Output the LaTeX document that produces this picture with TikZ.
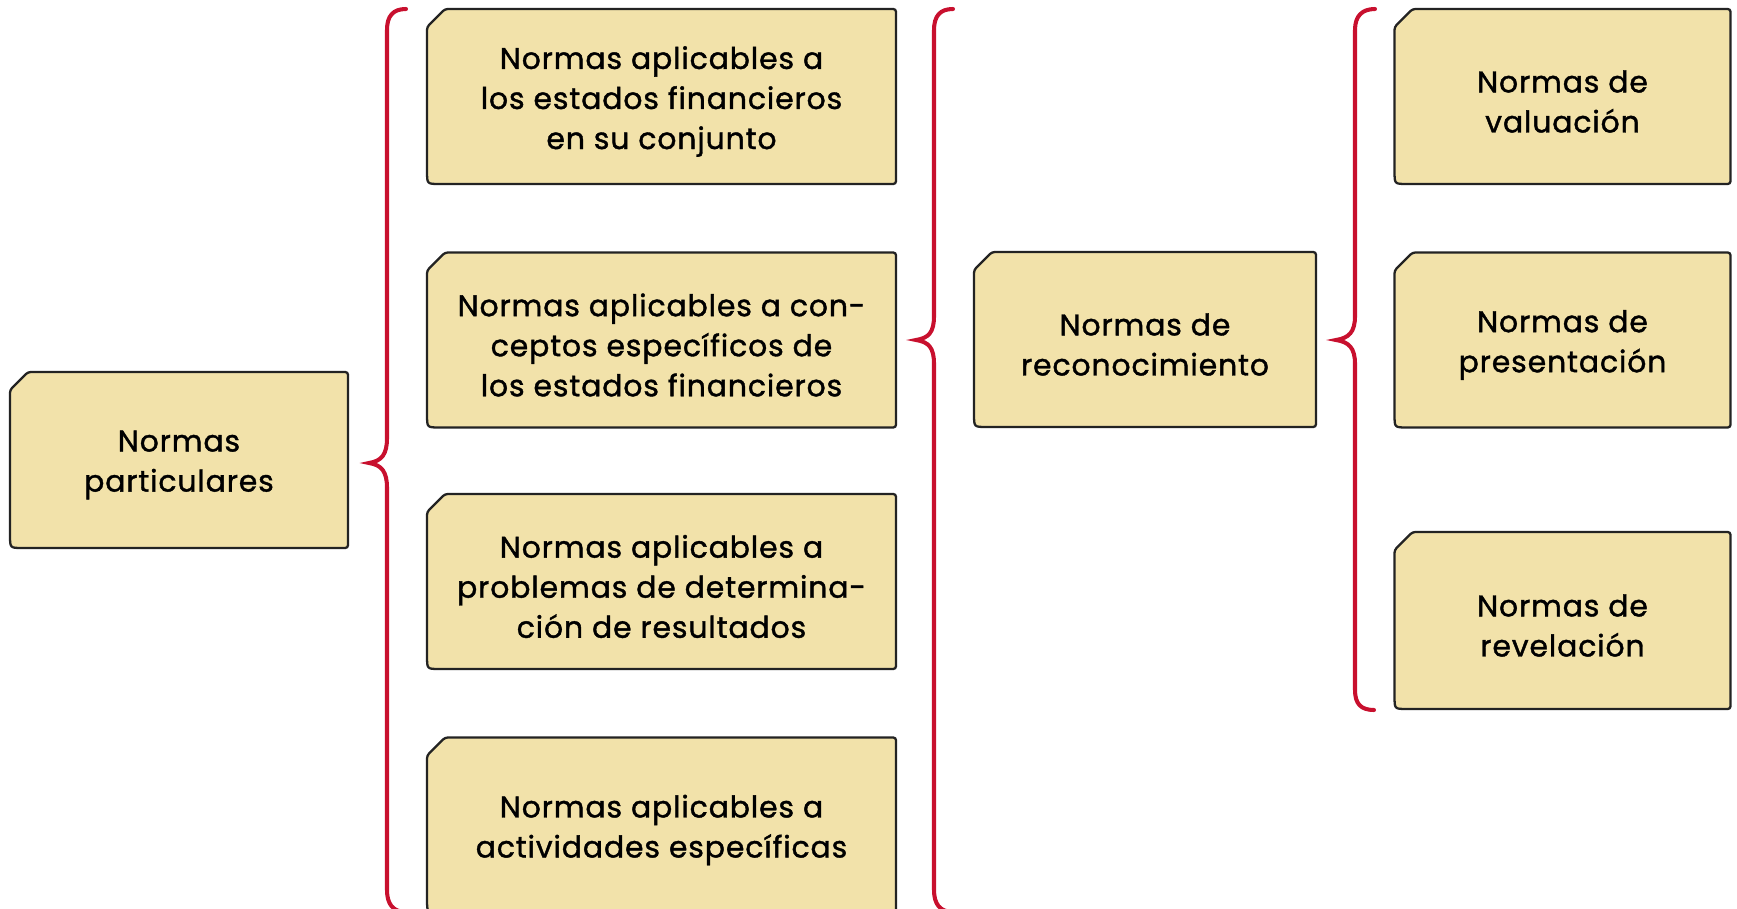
\documentclass[tikz,border=0pt]{standalone}
\usepackage{fontspec}
\setmainfont{Poppins}[FakeBold=1.3, LetterSpace=3]
\definecolor{normfill}{RGB}{242,226,170}
\definecolor{normline}{RGB}{35,35,35}
\definecolor{bracered}{RGB}{200,16,46}

% box with cut top-left corner and rounded bottom-left corner
\newcommand{\normbox}[6]{%
  \node[boxshape, minimum width=#4, minimum height=#5] (#1) at (#2,#3) {};
  \filldraw[boxline] ([xshift=0.36cm]#1.north west) -- (#1.north east) -- (#1.south east)
    -- ([xshift=0.3cm]#1.south west) .. controls (#1.south west) .. ([yshift=0.3cm]#1.south west)
    -- ([yshift=-0.36cm]#1.north west) -- cycle;
  \node[boxtext] at (#1) {#6};
}

\begin{document}
\begin{tikzpicture}[x=0.02cm, y=-0.02cm,
    boxshape/.style={inner sep=0pt, outer sep=0pt},
    boxline/.style={draw=normline, fill=normfill, line width=1.3pt, rounded corners=1.5pt},
    boxtext/.style={align=center, text=black, yshift=-0.1cm, font=\fontsize{17}{22.8}\selectfont},
    bracestyle/.style={draw=bracered, line width=2.3pt, line cap=round}]
    \useasboundingbox (0,0) rectangle (1737,909);
    \clip (0,0) rectangle (1737,909);

    % left box
    \normbox{part}{179}{460}{6.76cm}{3.52cm}{Normas\\particulares}

    % first column
    \normbox{conj}{661.5}{96.5}{9.38cm}{3.5cm}{Normas aplicables a\\los estados financieros\\en su conjunto}
    \normbox{conc}{661.5}{340}{9.38cm}{3.5cm}{Normas aplicables a con-\\ceptos específicos de\\los estados financieros}
    \normbox{prob}{661.5}{581.5}{9.38cm}{3.5cm}{Normas aplicables a\\problemas de determina-\\ción de resultados}
    \normbox{acti}{661.5}{825}{9.38cm}{3.5cm}{Normas aplicables a\\actividades específicas}

    % middle box
    \normbox{reco}{1145}{339.5}{6.84cm}{3.5cm}{Normas de\\reconocimiento}

    % right column
    \normbox{valu}{1562.5}{96.5}{6.72cm}{3.5cm}{Normas de\\valuación}
    \normbox{pres}{1562.5}{340}{6.72cm}{3.5cm}{Normas de\\presentación}
    \normbox{reve}{1562.5}{620.5}{6.72cm}{3.54cm}{Normas de\\revelación}

    % braces
    \draw[bracestyle] (406,9) .. controls (393,9) and (387,16) .. (387,30) -- (387,438)
        .. controls (387,454) and (382,461) .. (369,463)
        .. controls (382,465) and (387,472) .. (387,488) -- (387,890)
        .. controls (387,904) and (393,912) .. (406,912);
    \draw[bracestyle] (953,9) .. controls (940,9) and (934,16) .. (934,30) -- (934,316)
        .. controls (934,332) and (929,338) .. (916,340)
        .. controls (929,342) and (934,348) .. (934,364) -- (934,890)
        .. controls (934,904) and (940,912) .. (953,912);
    \draw[bracestyle] (1375,9) .. controls (1362,9) and (1355,16) .. (1355,30) -- (1355,316)
        .. controls (1355,332) and (1349,338) .. (1336,340)
        .. controls (1349,342) and (1355,348) .. (1355,364) -- (1355,690)
        .. controls (1355,704) and (1361,710) .. (1374,710);
\end{tikzpicture}
\end{document}
